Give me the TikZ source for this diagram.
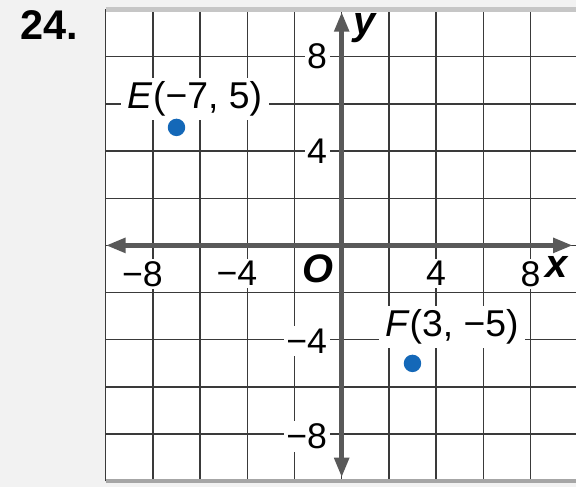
\documentclass[tikz,border=0pt]{standalone}
\usepackage{fontspec}
\setmainfont{Liberation Sans}
\usetikzlibrary{arrows.meta}
\definecolor{gridc}{HTML}{3A3A3A}
\definecolor{axisc}{HTML}{595959}
\definecolor{dotc}{HTML}{1468B8}
\definecolor{bgc}{HTML}{F2F2F2}
\begin{document}
\begin{tikzpicture}[x=0.5cm,y=0.5cm,
  gridline/.style={draw=gridc,line width=0.85pt},
  axisline/.style={draw=axisc,line width=3pt,
    {Triangle[length=12pt,width=8.5pt]}-{Triangle[length=12pt,width=8.5pt]}},
  ticklbl/.style={fill=white,inner sep=1.5pt,font=\fontsize{21.5}{24}\selectfont},
  axlbl/.style={inner sep=1pt,font=\fontsize{24}{26}\selectfont\bfseries\itshape},
  ptlbl/.style={fill=white,inner xsep=4pt,inner ysep=2pt,font=\fontsize{22.5}{25}\selectfont},
  ptdot/.style={fill=dotc}]
\fill[bgc] (-14.48,-10.23) rectangle (9.93,10.40);
\useasboundingbox (-14.48,-10.23) rectangle (9.93,10.40);
\begin{scope}
  \clip (-14.48,-10.23) rectangle (9.93,10.40);
  \fill[white] (-10,-10) rectangle (10,10);
  \foreach \x in {-10,-8,...,10} \draw[gridline] (\x,-10) -- (\x,10);
  \foreach \y in {-8,-6,...,8} \draw[gridline] (-10,\y) -- (10,\y);
  \draw[draw=gray!45,line width=2.5pt] (-10,10) -- (10,10);
  \draw[draw=gray!70,line width=2.5pt] (-10,-10) -- (10,-10);
\end{scope}
% title
\node[font=\fontsize{25}{28}\selectfont\bfseries] (num) at (-12.40,9.34) {24.};
% x tick labels
\node[ticklbl,anchor=north] (xm8) at (-8,-0.55) {\llap{−}8};
\node[ticklbl,anchor=north] (xm4) at (-4,-0.55) {\llap{−}4};
\node[ticklbl,anchor=north] (xp4) at (4,-0.55) {4};
\node[ticklbl,anchor=north] (xp8) at (8,-0.55) {8};
% y tick labels
\node[ticklbl,anchor=east] (yp8) at (-0.5,8) {8};
\node[ticklbl,anchor=east] (yp4) at (-0.5,4) {4};
\node[ticklbl,anchor=east] (ym4) at (-0.5,-4.05) {−4};
\node[ticklbl,anchor=east] (ym8) at (-0.5,-8.1) {−8};
% axes
\coordinate (xl) at (-10,0);
\coordinate (xr) at (9.8,0);
\coordinate (yb) at (0,-9.84);
\coordinate (yt) at (0,9.9);
\draw[axisline] (yb) -- (yt);
\draw[axisline] (xl) -- (xr);
\node[axlbl] (xlab) at (9.1,-0.9) {x};
\node[axlbl] (ylab) at (0.95,9.2) {y};
\node[axlbl] (olab) at (-1.0,-1.0) {O};
% points
\node[ptlbl] (Elab) at (-6.22,6.2) {\textit{E}(−7, 5)};
\node[ptlbl] (Flab) at (4.67,-3.45) {\textit{F}(3, −5)};
\fill[ptdot] (-7,5) circle (0.37) coordinate (E);
\fill[ptdot] (3,-5) circle (0.37) coordinate (F);
\end{tikzpicture}
\end{document}
